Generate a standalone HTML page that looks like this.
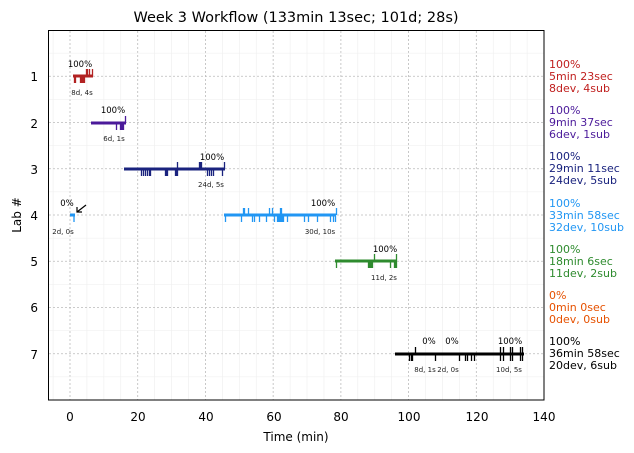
<!DOCTYPE html>
<html><head><meta charset="utf-8"><style>
html,body{margin:0;padding:0;background:#fff;}
svg{display:block;font-family:"DejaVu Sans","Liberation Sans",sans-serif;}
</style></head><body>
<svg id="s" width="634" height="453" viewBox="0 0 634 453" xmlns="http://www.w3.org/2000/svg">
<g id="grid"></g>
<g id="bars"></g>
<rect x="48.5" y="30.5" width="495.5" height="369.5" fill="none" stroke="#000" stroke-width="1"/>
<text x="296" y="22" font-size="14.5" text-anchor="middle">Week 3 Workflow (133min 13sec; 101d; 28s)</text>
<g font-size="12" text-anchor="middle">
<text x="70" y="421">0</text><text x="138" y="421">20</text><text x="206" y="421">40</text><text x="274" y="421">60</text><text x="341" y="421">80</text><text x="409" y="421">100</text><text x="477" y="421">120</text><text x="544" y="421">140</text>
<text x="296" y="441">Time (min)</text>
</g>
<g font-size="12" text-anchor="end">
<text x="38" y="81">1</text><text x="38" y="128">2</text><text x="38" y="174">3</text><text x="38" y="220">4</text><text x="38" y="266">5</text><text x="38" y="312">6</text><text x="38" y="359">7</text>
</g>
<text transform="translate(21,215) rotate(-90)" font-size="12" text-anchor="middle">Lab #</text>
<g font-size="11">
<text fill="#c0201f"><tspan x="549" y="68">100%</tspan><tspan x="549" y="80">5min 23sec</tspan><tspan x="549" y="92">8dev, 4sub</tspan></text>
<text fill="#4b1a9a"><tspan x="549" y="114">100%</tspan><tspan x="549" y="126">9min 37sec</tspan><tspan x="549" y="138">6dev, 1sub</tspan></text>
<text fill="#1a237e"><tspan x="549" y="160">100%</tspan><tspan x="549" y="172">29min 11sec</tspan><tspan x="549" y="184">24dev, 5sub</tspan></text>
<text fill="#2196f3"><tspan x="549" y="207">100%</tspan><tspan x="549" y="219">33min 58sec</tspan><tspan x="549" y="231">32dev, 10sub</tspan></text>
<text fill="#2e8b2e"><tspan x="549" y="253">100%</tspan><tspan x="549" y="265">18min 6sec</tspan><tspan x="549" y="277">11dev, 2sub</tspan></text>
<text fill="#e65100"><tspan x="549" y="299">0%</tspan><tspan x="549" y="311">0min 0sec</tspan><tspan x="549" y="323">0dev, 0sub</tspan></text>
<text fill="#000"><tspan x="549" y="345">100%</tspan><tspan x="549" y="357">36min 58sec</tspan><tspan x="549" y="369">20dev, 6sub</tspan></text>
</g>
<g font-size="8.5" text-anchor="middle">
<text x="80" y="67">100%</text><text x="113" y="113">100%</text><text x="212" y="160">100%</text><text x="67" y="206">0%</text><text x="323" y="206">100%</text><text x="385" y="252">100%</text><text x="429" y="344">0%</text><text x="452" y="344">0%</text><text x="510" y="344">100%</text>
</g>
<g font-size="7" text-anchor="middle" fill="#222">
<text x="82" y="95">8d, 4s</text><text x="114" y="141">6d, 1s</text><text x="211" y="187">24d, 5s</text><text x="63" y="234">2d, 0s</text><text x="320" y="234">30d, 10s</text><text x="384" y="280">11d, 2s</text><text x="425" y="372">8d, 1s</text><text x="448" y="372">2d, 0s</text><text x="509" y="372">10d, 5s</text>
</g>
<g stroke="#000" stroke-width="1.2" fill="none"><line x1="86" y1="205" x2="77" y2="212"/><path d="M77 207 L77 212 L82 212"/></g>
</svg>
<script>
var NS="http://www.w3.org/2000/svg";
function el(p,t,a){var e=document.createElementNS(NS,t);for(var k in a)e.setAttribute(k,a[k]);p.appendChild(e);return e;}
var g=document.getElementById('grid');
function X(t){return 70+3.386*t;}
function Y(v){return 30+46.25*v;}
for(var t=-5;t<=140;t+=5){var x=X(t);if(x<49)continue;var maj=t%20==0;el(g,'line',{x1:x,x2:x,y1:31,y2:400,stroke:maj?'#bbb':'#eee','stroke-width':maj?0.8:0.6,'stroke-dasharray':maj?'2,2':''});}
for(var v=0.5;v<8;v+=0.5){var y=Y(v);var maj=v%1==0;el(g,'line',{x1:49,x2:544,y1:y,y2:y,stroke:maj?'#bbb':'#eee','stroke-width':maj?0.8:0.6,'stroke-dasharray':maj?'2,2':''});}
var b=document.getElementById('bars');
var rows=[
 ['#b22222',76,73,93,[74,75,80,81,82,83,84],[86,87,89,92]],
 ['#4b1a9a',123,91,126,[116,120,121,122,123],[125]],
 ['#1a237e',169,124,225,[141,143,145,147,149,150,165,166,167,175,176,177,207,209,211,213,222],[177,199,200,201,224]],
 ['#2196f3',215,224,336,[225,241,252,254,259,266,274,277,278,279,280,281,282,283,287,304,308,317,330,333,335],[243,244,248,269,272,280,281,336]],
 ['#2e8b2e',261,335,397,[336,368,369,370,371,372,390,394,395,396],[374,396]],
 ['#000',354,395,524,[409,411,412,435,459,465,467,471,474,500,503,510,512,520,522],[415,500,503,510,512,520,522]]
];
rows.forEach(function(r){var c=r[0],y=r[1];
 el(b,'line',{x1:r[2],x2:r[3],y1:y,y2:y,stroke:c,'stroke-width':3});
 r[4].forEach(function(x){el(b,'line',{x1:x+0.5,x2:x+0.5,y1:y,y2:y+7,stroke:c,'stroke-width':1.3});});
 r[5].forEach(function(x){el(b,'line',{x1:x+0.5,x2:x+0.5,y1:y-7,y2:y,stroke:c,'stroke-width':1.3});});
});
el(b,'line',{x1:70,x2:75,y1:215,y2:215,stroke:'#2196f3','stroke-width':3});
el(b,'line',{x1:74,x2:74,y1:215,y2:222,stroke:'#2196f3','stroke-width':1.3});
</script>
</body></html>
